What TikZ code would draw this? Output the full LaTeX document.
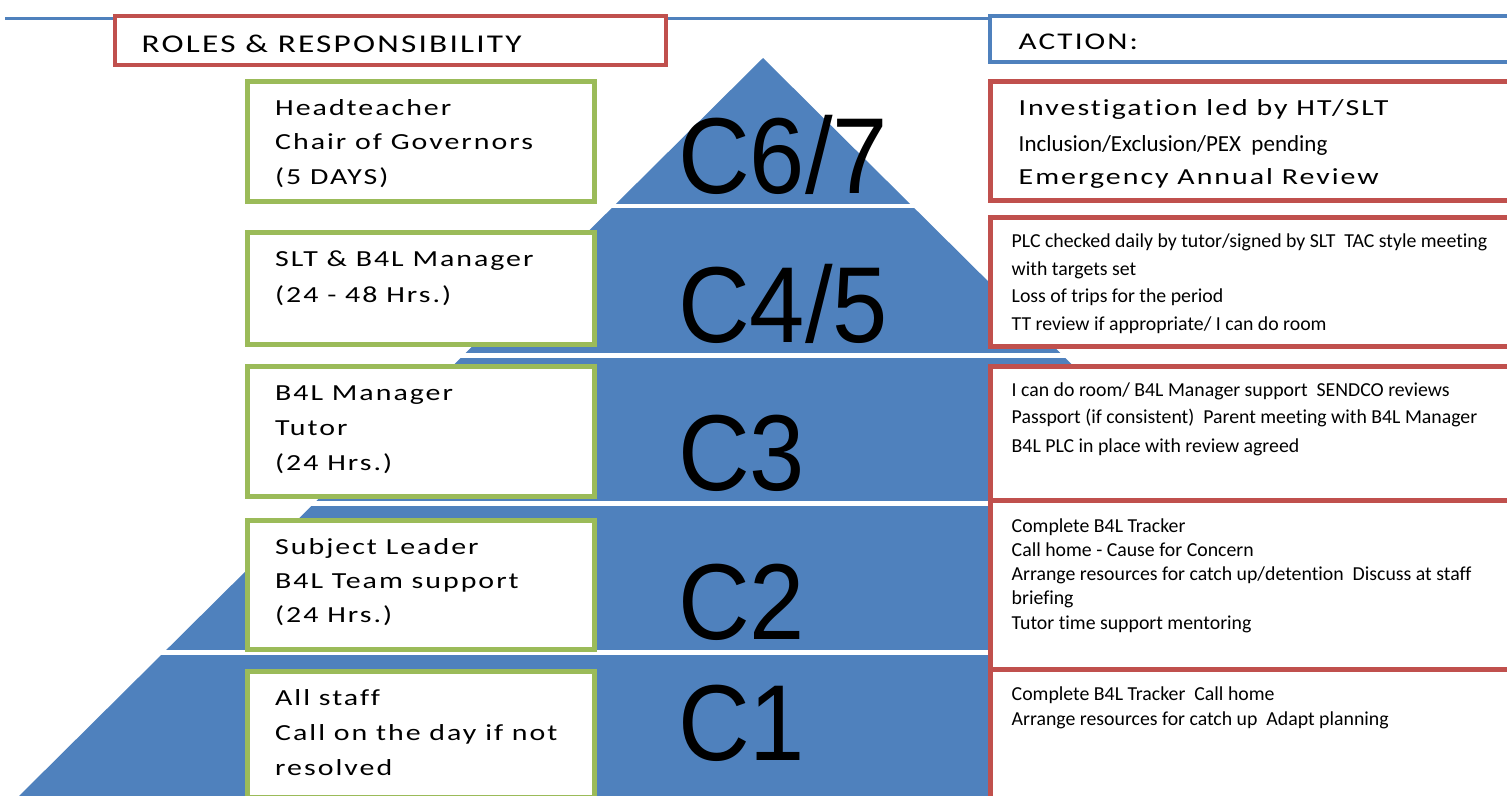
\documentclass[tikz,border=0pt]{standalone}
\usepackage{fontspec}
\newfontfamily\widefont{Carlito}[FakeStretch=1.3,LetterSpace=8.7,Ligatures={NoCommon,NoContextual}]
\newfontfamily\calfont{Carlito}[Ligatures={NoCommon,NoContextual}]
\newfontfamily\arlfont{Liberation Sans}[FakeStretch=0.92]
\definecolor{pblue}{HTML}{4F81BD}
\definecolor{pred}{HTML}{C0504D}
\definecolor{pgreen}{HTML}{9BBB59}
\begin{document}
\begin{tikzpicture}[x=1pt,y=-1pt,
  gbox/.style={draw=pgreen, line width=5pt, fill=white, inner sep=0pt, minimum width=347pt},
  rbox/.style={draw=pred, line width=5pt, fill=white, inner sep=0pt, minimum width=524.5pt},
  wtxt/.style={font=\widefont\fontsize{23}{23}\selectfont, anchor=base west, inner sep=0pt},
  ctxt/.style={font=\calfont\fontsize{19.8}{19.8}\selectfont, anchor=base west, inner sep=0pt},
  clabel/.style={font=\arlfont\fontsize{108}{108}\selectfont, anchor=base west, inner sep=0pt},
  gapline/.style={white, line width=4.5pt}]
\useasboundingbox (0,0) rectangle (1507,795);
\clip (0,0) rectangle (1507,795);
% top blue line
\coordinate (tl) at (5,18);
\coordinate (tr) at (1512,18);
\draw[pblue, line width=3pt] (tl) -- (tr);
% pyramid
\fill[pblue] (763,58) -- (15,800) -- (1511,800) -- cycle;
\draw[gapline] (0,206) -- (1507,206);
\draw[gapline] (0,355.5) -- (1507,355.5);
\draw[gapline] (0,503.5) -- (1507,503.5);
\draw[gapline] (0,652.5) -- (1507,652.5);
% header boxes
\node[draw=pred, line width=4pt, fill=white, inner sep=0pt, minimum width=551pt, minimum height=49pt] (roles) at (390.5,40.5) {};
\node[draw=pblue, line width=4pt, fill=white, inner sep=0pt, minimum width=525pt, minimum height=46pt] (action) at (1252.5,39) {};
\node[font=\widefont\fontsize{25.6}{25.6}\selectfont, anchor=base west, inner sep=0pt] (rolest) at (141.5,52.5) {ROLES \& RESPONSIBILITY};
\node[font=\widefont\fontsize{24}{24}\selectfont, anchor=base west, inner sep=0pt] (actiont) at (1018.5,49.3) {ACTION:};
% green boxes
\node[gbox, minimum height=120pt] (g1) at (421,141.5) {};
\node[gbox, minimum height=112pt] (g2) at (421,288.5) {};
\node[gbox, minimum height=130pt] (g3) at (421,431.5) {};
\node[gbox, minimum height=129pt] (g4) at (421,585) {};
\node[gbox, minimum height=126pt] (g5) at (421,734.5) {};
% red boxes
\node[rbox, minimum height=119pt] (ra) at (1252.75,141) {};
\node[rbox, minimum height=129pt] (rb) at (1252.75,282) {};
\node[rbox, minimum height=133.5pt] (rc) at (1252.75,433.25) {};
\node[rbox, minimum height=169.5pt] (rd) at (1252.75,584.75) {};
\node[rbox, minimum height=130.5pt] (re) at (1252.75,734.75) {};
% C labels
\node[clabel] (c67) at (678,193) {C6/7};
\node[clabel] (c45) at (678,342) {C4/5};
\node[clabel] (c3) at (678,490) {C3};
\node[clabel] (c2) at (678,639) {C2};
\node[clabel] (c1) at (678,760) {C1};
% left texts
\node[wtxt] (g1a) at (275,115) {Headteacher};
\node[wtxt] (g1b) at (275,149.5) {Chair of Governors};
\node[wtxt] (g1c) at (275,184) {(5 DAYS)};
\node[wtxt] (g2a) at (275,266) {SLT \& B4L Manager};
\node[wtxt] (g2b) at (275,302) {(24 - 48 Hrs.)};
\node[wtxt] (g3a) at (275,400) {B4L Manager};
\node[wtxt] (g3b) at (275,435) {Tutor};
\node[wtxt] (g3c) at (275,470) {(24 Hrs.)};
\node[wtxt] (g4a) at (275,554) {Subject Leader};
\node[wtxt] (g4b) at (275,588) {B4L Team support};
\node[wtxt] (g4c) at (275,622.5) {(24 Hrs.)};
\node[wtxt] (g5a) at (275,705) {All staff};
\node[wtxt] (g5b) at (275,740) {Call on the day if not};
\node[wtxt] (g5c) at (275,775) {resolved};
% right texts
\node[wtxt] (raa) at (1018.5,115.5) {Investigation led by HT/SLT};
\node[ctxt, font=\calfont\fontsize{23}{23}\selectfont] (rab) at (1018.5,151.5) {Inclusion/Exclusion/PEX\ \ pending};
\node[wtxt] (rac) at (1018.5,184.5) {Emergency Annual Review};
\node[ctxt] (rba) at (1011.5,247.7) {PLC checked daily by tutor/signed by SLT\ \ TAC style meeting};
\node[ctxt] (rbb) at (1011.5,275) {with targets set};
\node[ctxt] (rbc) at (1011.5,302.5) {Loss of trips for the period};
\node[ctxt] (rbd) at (1011.5,330) {TT review if appropriate/ I can do room};
\node[ctxt] (rca) at (1011.5,396.7) {I can do room/ B4L Manager support\ \ SENDCO reviews};
\node[ctxt] (rcb) at (1011.5,423.5) {Passport (if consistent)\ \ Parent meeting with B4L Manager};
\node[ctxt] (rcc) at (1011.5,452) {B4L PLC in place with review agreed};
\node[ctxt] (rda) at (1011.5,532.7) {Complete B4L Tracker};
\node[ctxt] (rdb) at (1011.5,556.7) {Call home - Cause for Concern};
\node[ctxt] (rdc) at (1011.5,580.5) {Arrange resources for catch up/detention\ \ Discuss at staff};
\node[ctxt] (rdd) at (1011.5,604.5) {briefing};
\node[ctxt] (rde) at (1011.5,629) {Tutor time support mentoring};
\node[ctxt] (rea) at (1011.5,700.5) {Complete B4L Tracker\ \ Call home};
\node[ctxt] (reb) at (1011.5,725.7) {Arrange resources for catch up\ \ Adapt planning};
\end{tikzpicture}
\end{document}
